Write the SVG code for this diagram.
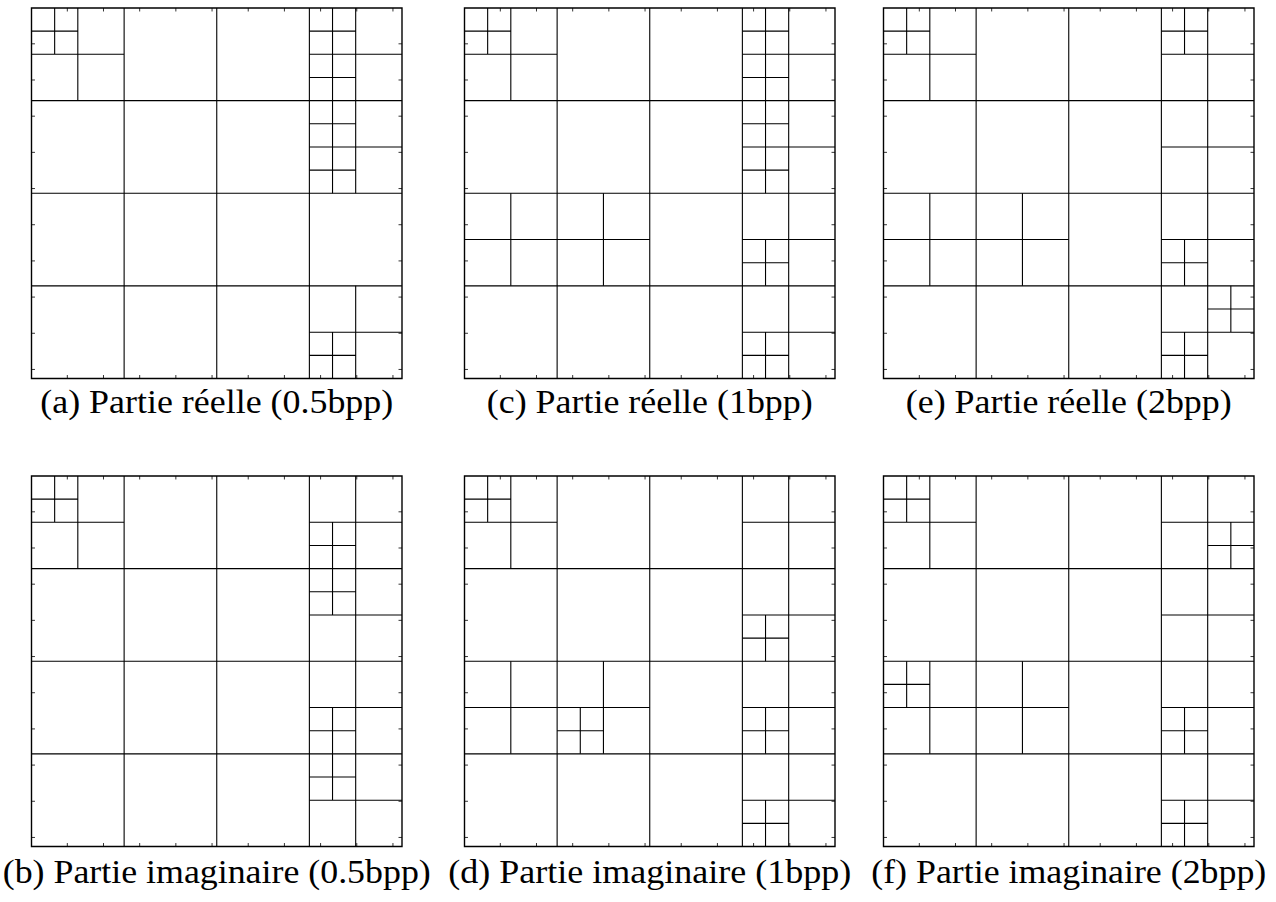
<svg xmlns="http://www.w3.org/2000/svg" xmlns:xlink="http://www.w3.org/1999/xlink" width="1276" height="902" viewBox="0 0 1276 902">
<style>
.frame{fill:none;stroke:#000;stroke-width:1.4;vector-effect:non-scaling-stroke}
.grid{fill:none;stroke:#000;stroke-width:1.1;vector-effect:non-scaling-stroke}
.tick{fill:none;stroke:#333;stroke-width:1;vector-effect:non-scaling-stroke}
.cap{font-family:"Liberation Serif","DejaVu Serif",serif;font-size:33px;fill:#000;text-anchor:middle}
</style>
<defs>
<g id="base">
<path class="grid" d="M4 0V16M8 0V16M12 0V16M0 4H16M0 8H16M0 12H16M2 0V4M0 2H4M1 0V2M0 1H2"/>
<path class="tick" d="M1.547 0v0.15M3.109 0v0.15M4.672 0v0.15M6.234 0v0.15M7.797 0v0.15M9.359 0v0.15M10.922 0v0.15M12.484 0v0.15M14.047 0v0.15M15.609 0v0.15M1.547 16v-0.15M3.109 16v-0.15M4.672 16v-0.15M6.234 16v-0.15M7.797 16v-0.15M9.359 16v-0.15M10.922 16v-0.15M12.484 16v-0.15M14.047 16v-0.15M15.609 16v-0.15M0 1.547h0.15M0 3.109h0.15M0 4.672h0.15M0 6.234h0.15M0 7.797h0.15M0 9.359h0.15M0 10.922h0.15M0 12.484h0.15M0 14.047h0.15M0 15.609h0.15M16 1.547h-0.15M16 3.109h-0.15M16 4.672h-0.15M16 6.234h-0.15M16 7.797h-0.15M16 9.359h-0.15M16 10.922h-0.15M16 12.484h-0.15M16 14.047h-0.15M16 15.609h-0.15"/>
<rect class="frame" x="0" y="0" width="16" height="16"/>
</g>
</defs>

<g id="panel-a" transform="translate(31.5,8) scale(23.15625)">
<use xlink:href="#base"/>
<path class="grid" d="M14 0V4M12 2H16M13 0V2M12 1H14M13 2V4M12 3H14M14 4V8M12 6H16M13 4V6M12 5H14M13 6V8M12 7H14M14 12V16M12 14H16M13 14V16M12 15H14"/>
</g>
<g id="panel-b" transform="translate(31.5,476) scale(23.15625)">
<use xlink:href="#base"/>
<path class="grid" d="M14 0V4M12 2H16M13 2V4M12 3H14M14 4V8M12 6H16M13 4V6M12 5H14M14 8V12M12 10H16M13 10V12M12 11H14M14 12V16M12 14H16M13 12V14M12 13H14"/>
</g>
<g id="panel-c" transform="translate(464.5,8) scale(23.15625)">
<use xlink:href="#base"/>
<path class="grid" d="M14 0V4M12 2H16M13 0V2M12 1H14M13 2V4M12 3H14M14 4V8M12 6H16M13 4V6M12 5H14M13 6V8M12 7H14M14 8V12M12 10H16M13 10V12M12 11H14M14 12V16M12 14H16M13 14V16M12 15H14M2 8V12M0 10H4M6 8V12M4 10H8"/>
</g>
<g id="panel-d" transform="translate(464.5,476) scale(23.15625)">
<use xlink:href="#base"/>
<path class="grid" d="M14 0V4M12 2H16M14 4V8M12 6H16M13 6V8M12 7H14M14 8V12M12 10H16M13 10V12M12 11H14M14 12V16M12 14H16M13 14V16M12 15H14M2 8V12M0 10H4M6 8V12M4 10H8M5 10V12M4 11H6"/>
</g>
<g id="panel-e" transform="translate(883.5,8) scale(23.15625)">
<use xlink:href="#base"/>
<path class="grid" d="M14 0V4M12 2H16M13 0V2M12 1H14M14 4V8M12 6H16M14 8V12M12 10H16M13 10V12M12 11H14M14 12V16M12 14H16M15 12V14M14 13H16M13 14V16M12 15H14M2 8V12M0 10H4M6 8V12M4 10H8"/>
</g>
<g id="panel-f" transform="translate(883.5,476) scale(23.15625)">
<use xlink:href="#base"/>
<path class="grid" d="M14 0V4M12 2H16M15 2V4M14 3H16M14 4V8M12 6H16M14 8V12M12 10H16M13 10V12M12 11H14M14 12V16M12 14H16M13 14V16M12 15H14M2 8V12M0 10H4M1 8V10M0 9H2M6 8V12M4 10H8"/>
</g>

<g id="captions">
<text class="cap" x="216.75" y="413" textLength="353" lengthAdjust="spacingAndGlyphs">(a) Partie réelle (0.5bpp)</text>
<text class="cap" x="649.75" y="413" textLength="326" lengthAdjust="spacingAndGlyphs">(c) Partie réelle (1bpp)</text>
<text class="cap" x="1068.75" y="413" textLength="326" lengthAdjust="spacingAndGlyphs">(e) Partie réelle (2bpp)</text>
<text class="cap" x="216.75" y="883" textLength="428" lengthAdjust="spacingAndGlyphs">(b) Partie imaginaire (0.5bpp)</text>
<text class="cap" x="649.75" y="883" textLength="403" lengthAdjust="spacingAndGlyphs">(d) Partie imaginaire (1bpp)</text>
<text class="cap" x="1068.75" y="883" textLength="395" lengthAdjust="spacingAndGlyphs">(f) Partie imaginaire (2bpp)</text>
</g>
</svg>
